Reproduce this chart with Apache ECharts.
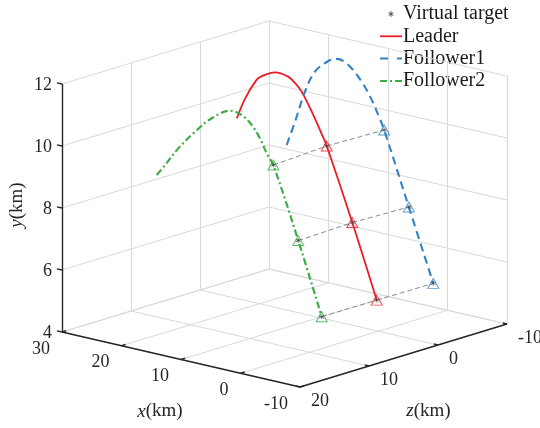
<!DOCTYPE html>
<html>
<head>
<meta charset="utf-8">
<script src="https://cdn.jsdelivr.net/npm/echarts@6/dist/echarts.min.js"></script>
<style>
  html, body { margin: 0; padding: 0; background: #ffffff; }
  #chart { width: 540px; height: 428px; }
</style>
</head>
<body>
<div id="chart"></div>
<script>
// ---- Axis ticks (km) ----
const xTicks = [30, 20, 10, 0, -10];
const yTicks = [4, 6, 8, 10, 12];
const zTicks = [20, 10, 0, -10];
const xTickLabels = ['30', '20', '10', '0', '-10'];
const yTickLabels = ['4', '6', '8', '10', '12'];
const zTickLabels = ['20', '10', '0', '-10'];

// ---- Leader trajectory (km) ----
const leaderX = [23.8, 22.4, 20.5, 19.6, 17.4, 15.2, 14.0, 12.9, 11.2, 9.6, 8.7, 4.4, 0.3];
const leaderY = [9.81, 10.52, 11.20, 11.36, 11.58, 11.54, 11.38, 11.15, 10.58, 9.96, 9.59, 7.31, 4.99];
const leaderZ = [0, 0, 0, 0, 0, 0, 0, 0, 0, 0, 0, 0, 0];

// ---- Follower1 trajectory (km) ----
const follower1X = [24.71, 23.31, 21.63, 19.95, 17.71, 16.30, 14.35, 12.10, 10.42, 9.31, 8.32, 4.18, 0.07];
const follower1Y = [8.37, 9.18, 10.23, 10.95, 11.39, 11.52, 11.41, 10.97, 10.46, 10.02, 9.58, 7.28, 5.00];
const follower1Z = [-8, -8, -8, -8, -8, -8, -8, -8, -8, -8, -8, -8, -8];

// ---- Follower2 trajectory (km) ----
const follower2X = [28.0, 26.61, 24.37, 21.56, 18.76, 15.68, 13.71, 12.03, 10.64, 9.51, 8.40, 4.20, 0.27];
const follower2Y = [8.34, 8.72, 9.36, 10.02, 10.58, 10.96, 10.91, 10.66, 10.29, 9.86, 9.53, 7.28, 5.00];
const follower2Z = [8, 8, 8, 8, 8, 8, 8, 8, 8, 8, 8, 8, 8];

// ---- Virtual target points at three sampling instants ----
const leaderTargetX = [8.7, 4.4, 0.3];
const leaderTargetY = [9.59, 7.31, 4.99];
const leaderTargetZ = [0, 0, 0];
const follower1TargetX = [8.32, 4.18, 0.07];
const follower1TargetY = [9.58, 7.28, 5.00];
const follower1TargetZ = [-8, -8, -8];
const follower2TargetX = [8.40, 4.20, 0.27];
const follower2TargetY = [9.53, 7.28, 5.00];
const follower2TargetZ = [8, 8, 8];

// ---- Legend entries ----
const legendNames = ['Virtual target', 'Leader', 'Follower1', 'Follower2'];

// ---- Axis limits ----
const xLim = [-10, 30];
const yLim = [4, 12];
const zLim = [-10, 20];

// ---- Fixed orthographic view of the box ----
// The corner (x = xLim[0], y = yLim[0], z = zLim[1]) is the anchor; every unit
// step along x, y or z moves the projected point by the given screen vector.
const view = {
  anchor: [300, 387],
  ux: [-5.95, -1.375],
  uy: [0, -31],
  uz: [-6.9, 2.1]
};
function project(x, y, z) {
  const dx = x - xLim[0], dy = y - yLim[0], dz = z - zLim[1];
  return [
    view.anchor[0] + dx * view.ux[0] + dy * view.uy[0] + dz * view.uz[0],
    view.anchor[1] + dx * view.ux[1] + dy * view.uy[1] + dz * view.uz[1]
  ];
}
function projectPath(xs, ys, zs) {
  return xs.map((x, i) => project(x, ys[i], zs[i]));
}
function seg(a, b) {
  return { coords: [project(a[0], a[1], a[2]), project(b[0], b[1], b[2])] };
}

const X0 = xLim[0], X1 = xLim[1], Y0 = yLim[0], Y1 = yLim[1], Z0 = zLim[0], Z1 = zLim[1];

// Grid lines on the two back walls and the floor
const gridSegs = [];
yTicks.forEach(y => {
  gridSegs.push(seg([X1, y, Z1], [X1, y, Z0]));
  gridSegs.push(seg([X1, y, Z0], [X0, y, Z0]));
});
zTicks.forEach(z => {
  gridSegs.push(seg([X1, Y0, z], [X1, Y1, z]));
  gridSegs.push(seg([X1, Y0, z], [X0, Y0, z]));
});
xTicks.forEach(x => {
  gridSegs.push(seg([x, Y0, Z0], [x, Y1, Z0]));
  gridSegs.push(seg([x, Y0, Z1], [x, Y0, Z0]));
});

// Axis lines
const axisSegs = [
  seg([X1, Y0, Z1], [X1, Y1, Z1]),
  seg([X1, Y0, Z1], [X0, Y0, Z1]),
  seg([X0, Y0, Z1], [X0, Y0, Z0])
];

// Tick marks
const tickSegs = [];
yTicks.forEach(y => tickSegs.push(seg([X1, y, Z1], [X1 + 0.85, y, Z1])));
xTicks.forEach(x => tickSegs.push(seg([x, Y0, Z1], [x, Y0, Z1 - 0.6])));
zTicks.forEach(z => tickSegs.push(seg([X0, Y0, z], [X0 + 0.7, Y0, z])));

// Tick labels: anchor point plus text placement
const labelItems = [];
yTicks.forEach((y, i) => labelItems.push({ p: project(X1, y, Z1), text: yTickLabels[i], dx: -10, dy: 1, align: 'right' }));
xTicks.forEach((x, i) => labelItems.push({ p: project(x, Y0, Z1), text: xTickLabels[i], dx: -12, dy: 17, align: 'right' }));
zTicks.forEach((z, i) => labelItems.push({ p: project(X0, Y0, z), text: zTickLabels[i], dx: 11, dy: 14.5, align: 'left' }));

// Axis names, placed along each axis
const nameItems = [
  { p: project(10, Y0, Z1), text: '{i|x}(km)', dx: -21, dy: 52, rot: 0 },
  { p: project(X1, 8, Z1), text: '{i|y}(km)', dx: -45, dy: -3, rot: Math.PI / 2 },
  { p: project(X0, Y0, 5), text: '{i|z}(km)', dx: 25, dy: 55.5, rot: 0 }
];

const FONT = '"Liberation Serif", "Times New Roman", serif';
const TEXT_COLOR = '#262626';
const RED = '#ec1c24';
const BLUE = '#3382c4';
const GREEN = '#3dab48';
const STAR = 'path://M0,-5L0,5M-4.33,-2.5L4.33,2.5M-4.33,2.5L4.33,-2.5';

function textSeries(items, fontSize, withRich) {
  return {
    type: 'custom',
    coordinateSystem: 'cartesian2d',
    silent: true,
    z: 5,
    data: items.map(t => t.p),
    renderItem(params, api) {
      const t = items[params.dataIndex];
      const c = api.coord([api.value(0), api.value(1)]);
      const style = {
        text: t.text,
        fontFamily: FONT,
        fontSize: fontSize,
        fill: TEXT_COLOR,
        align: t.align || 'center',
        verticalAlign: 'middle'
      };
      if (withRich) {
        style.rich = { i: { fontStyle: 'italic', fontFamily: FONT, fontSize: fontSize, fill: TEXT_COLOR } };
      }
      return {
        type: 'text',
        x: c[0] + t.dx,
        y: c[1] + t.dy,
        rotation: t.rot || 0,
        style: style
      };
    }
  };
}

const leaderTargets = projectPath(leaderTargetX, leaderTargetY, leaderTargetZ);
const follower1Targets = projectPath(follower1TargetX, follower1TargetY, follower1TargetZ);
const follower2Targets = projectPath(follower2TargetX, follower2TargetY, follower2TargetZ);

// Dashed links between the three virtual targets of each instant
const linkSegs = [];
leaderTargetX.forEach((_, i) => {
  linkSegs.push({ coords: [follower2Targets[i], leaderTargets[i]] });
  linkSegs.push({ coords: [leaderTargets[i], follower1Targets[i]] });
});

// Legend keys drawn in the top-right corner
const legendLeft = 380, legendTop = 14, legendRow = 22.3, keyLen = 22;
const legendKeys = [
  { kind: 'star', color: '#404040' },
  { kind: 'line', color: RED, width: 1.8, dash: null },
  { kind: 'line', color: BLUE, width: 2, dash: [9, 8] },
  { kind: 'line', color: GREEN, width: 2, dash: [7, 3, 2, 3] }
];
const legendGraphics = [];
legendNames.forEach((name, i) => {
  const cy = legendTop + i * legendRow;
  const key = legendKeys[i];
  if (key.kind === 'star') {
    const cx = legendLeft + keyLen / 2, r = 2.8;
    [0, 60, 120].forEach(a => {
      const t = a * Math.PI / 180;
      legendGraphics.push({
        type: 'line', silent: true,
        shape: { x1: cx - r * Math.sin(t), y1: cy - r * Math.cos(t), x2: cx + r * Math.sin(t), y2: cy + r * Math.cos(t) },
        style: { stroke: key.color, lineWidth: 0.9 }
      });
    });
  } else {
    legendGraphics.push({
      type: 'line', silent: true,
      shape: { x1: legendLeft, y1: cy, x2: legendLeft + keyLen, y2: cy },
      style: { stroke: key.color, lineWidth: key.width, lineDash: key.dash }
    });
  }
  legendGraphics.push({
    type: 'text', silent: true,
    x: legendLeft + keyLen + 1, y: cy,
    style: { text: name, fontFamily: FONT, fontSize: 20, fill: '#1a1a1a', verticalAlign: 'middle', align: 'left' }
  });
});

const chart = echarts.init(document.getElementById('chart'), null, { renderer: 'canvas' });
chart.setOption({
  backgroundColor: '#ffffff',
  animation: false,
  grid: { left: 0, right: 0, top: 0, bottom: 0 },
  xAxis: { type: 'value', min: 0, max: 540, show: false },
  yAxis: { type: 'value', min: 0, max: 428, inverse: true, show: false },
  graphic: { elements: legendGraphics },
  series: [
    {
      type: 'lines', coordinateSystem: 'cartesian2d', silent: true, z: 1,
      lineStyle: { color: '#d9d9d9', width: 1, opacity: 1 },
      data: gridSegs
    },
    {
      type: 'lines', coordinateSystem: 'cartesian2d', silent: true, z: 2,
      lineStyle: { color: '#262626', width: 1.4, opacity: 1 },
      data: axisSegs.concat(tickSegs)
    },
    textSeries(labelItems, 18, false),
    textSeries(nameItems, 19, true),
    {
      type: 'lines', coordinateSystem: 'cartesian2d', silent: true, z: 3,
      lineStyle: { color: '#8a8a8a', width: 1, type: [5, 3], opacity: 1 },
      data: linkSegs
    },
    {
      name: 'Leader', type: 'line', z: 4, symbol: 'none', smooth: 0.35,
      lineStyle: { color: RED, width: 1.8 },
      itemStyle: { color: RED },
      data: projectPath(leaderX, leaderY, leaderZ)
    },
    {
      name: 'Follower1', type: 'line', z: 4, symbol: 'none', smooth: 0.35,
      lineStyle: { color: BLUE, width: 2.1, type: [8, 5] },
      itemStyle: { color: BLUE },
      data: projectPath(follower1X, follower1Y, follower1Z)
    },
    {
      name: 'Follower2', type: 'line', z: 4, symbol: 'none', smooth: 0.35,
      lineStyle: { color: GREEN, width: 2.2, type: [7, 3, 2, 3] },
      itemStyle: { color: GREEN },
      data: projectPath(follower2X, follower2Y, follower2Z)
    },
    {
      name: 'Leader target', type: 'scatter', z: 5, symbol: 'triangle', symbolSize: [11, 10],
      itemStyle: { color: 'rgba(0,0,0,0)', borderColor: RED, borderWidth: 1 },
      data: leaderTargets
    },
    {
      name: 'Follower1 target', type: 'scatter', z: 5, symbol: 'triangle', symbolSize: [11, 10],
      itemStyle: { color: 'rgba(0,0,0,0)', borderColor: BLUE, borderWidth: 1 },
      data: follower1Targets
    },
    {
      name: 'Follower2 target', type: 'scatter', z: 5, symbol: 'triangle', symbolSize: [11, 10],
      itemStyle: { color: 'rgba(0,0,0,0)', borderColor: GREEN, borderWidth: 1 },
      data: follower2Targets
    },
    {
      name: 'Virtual target', type: 'scatter', z: 6, symbol: STAR, symbolSize: 5,
      itemStyle: { color: 'rgba(0,0,0,0)', borderColor: '#404040', borderWidth: 0.8 },
      data: leaderTargets.concat(follower1Targets, follower2Targets)
    }
  ]
});
</script>
</body>
</html>
